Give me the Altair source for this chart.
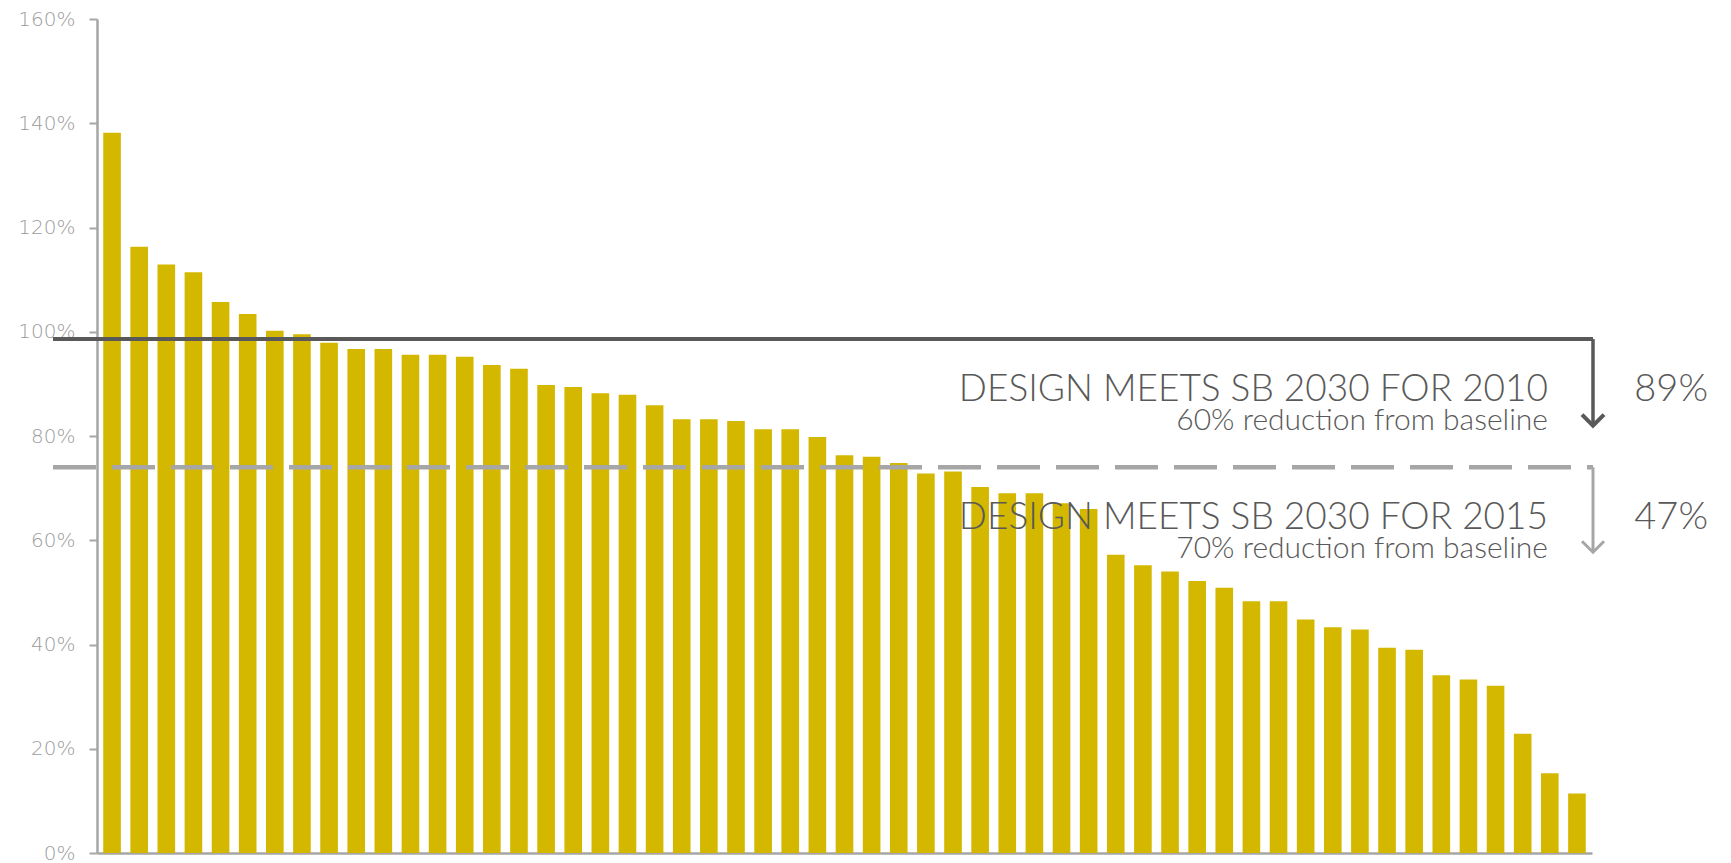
import altair as alt
import pandas as pd

# Bar values (% of baseline), sorted descending as in the reference
values = [138.2, 116.3, 112.9, 111.4, 105.7, 103.4, 100.2, 99.5, 97.9, 96.7,
          96.7, 95.6, 95.6, 95.2, 93.6, 92.9, 89.8, 89.4, 88.2, 87.9,
          85.9, 83.2, 83.2, 82.9, 81.3, 81.3, 79.8, 76.3, 76.0, 74.8,
          72.8, 73.2, 70.2, 69.0, 69.0, 67.1, 66.0, 57.2, 55.2, 54.0,
          52.2, 50.9, 48.3, 48.3, 44.8, 43.3, 42.9, 39.4, 39.0, 34.1,
          33.3, 32.1, 22.9, 15.3, 11.4]
buildings = list(range(1, len(values) + 1))

# Threshold lines and arrow end points (% on the y scale)
levels = [98.6, 74.0]
arrow_ends = [82.0, 57.7]
titles = ["DESIGN MEETS SB 2030  FOR 2010", "DESIGN MEETS SB 2030 FOR 2015"]
subtitles = ["60% reduction from baseline", "70% reduction from baseline"]
shares = ["89%", "47%"]
y_ticks = [0, 20, 40, 60, 80, 100, 120, 140, 160]

FONT = "Lato"
AXFONT = "DejaVu Sans"
BAR = "#D4B800"
DARK = "#595959"
LIGHT = "#A6A6A6"
TXT = "#595959"

W, H = 1495, 834

bars_df = pd.DataFrame({"b": buildings, "v": values})
thr = pd.DataFrame({"level": levels, "end": arrow_ends, "title": titles,
                    "sub": subtitles, "share": shares, "kind": ["2010", "2015"]})

yscale = alt.Scale(domain=[0, 160], nice=False, zero=True)

bars = alt.Chart(bars_df).mark_bar(color=BAR).encode(
    x=alt.X("b:O", sort=None,
            scale=alt.Scale(paddingInner=0.35, paddingOuter=0.23),
            axis=alt.Axis(labels=False, ticks=False, title=None, domainColor=LIGHT,
                          domainWidth=2.5, grid=False)),
    y=alt.Y("v:Q", scale=yscale,
            axis=alt.Axis(values=y_ticks, labelExpr="datum.value + '%'", title=None,
                          grid=False, domainColor=LIGHT, domainWidth=2.5,
                          tickColor=LIGHT, tickWidth=2, tickSize=8, labelPadding=14,
                          labelColor="#9C9C9C", labelFont=AXFONT, labelFontSize=20,
                          labelFontWeight=200)),
)

solid = thr[thr.kind == "2010"]
dashed = thr[thr.kind == "2015"]

h_solid = alt.Chart(solid).mark_rule(color=DARK, strokeWidth=4).encode(
    y=alt.Y("level:Q", scale=yscale), x=alt.value(-44), x2=alt.value(W + 1))
h_dash = alt.Chart(dashed).mark_rule(color=LIGHT, strokeWidth=4.5, strokeDash=[43, 16]).encode(
    y=alt.Y("level:Q", scale=yscale), x=alt.value(-44), x2=alt.value(W + 1))

v_solid = alt.Chart(solid).mark_rule(color=DARK, strokeWidth=3.5).encode(
    y=alt.Y("level:Q", scale=yscale), y2="end:Q", x=alt.value(W + 1))
v_dash = alt.Chart(dashed).mark_rule(color=LIGHT, strokeWidth=3).encode(
    y=alt.Y("level:Q", scale=yscale), y2="end:Q", x=alt.value(W + 1))

chev = "M-1,-1L0,0L1,-1"
a_solid = alt.Chart(solid).mark_point(shape=chev, filled=False, size=484, strokeWidth=4,
                                      color=DARK, opacity=1).encode(
    y=alt.Y("end:Q", scale=yscale), x=alt.value(W + 1))
a_dash = alt.Chart(dashed).mark_point(shape=chev, filled=False, size=484, strokeWidth=3,
                                      color=LIGHT, opacity=1).encode(
    y=alt.Y("end:Q", scale=yscale), x=alt.value(W + 1))

t_title = alt.Chart(thr).mark_text(align="right", baseline="alphabetic", dy=62,
                                   font=FONT, fontSize=37, fontWeight=300, color=TXT).encode(
    y=alt.Y("level:Q", scale=yscale), x=alt.value(1451), text="title:N")
t_sub = alt.Chart(thr).mark_text(align="right", baseline="alphabetic", dy=91,
                                 font=FONT, fontSize=30, fontWeight=300, color=TXT).encode(
    y=alt.Y("level:Q", scale=yscale), x=alt.value(1451), text="sub:N")
t_share = alt.Chart(thr).mark_text(align="right", baseline="alphabetic", dy=62,
                                   font=FONT, fontSize=38, fontWeight=300, color=TXT).encode(
    y=alt.Y("level:Q", scale=yscale), x=alt.value(1611), text="share:N")

chart = alt.layer(bars, h_solid, h_dash, v_solid, v_dash, a_solid, a_dash,
                  t_title, t_sub, t_share).properties(
    width=W, height=H,
    autosize=alt.AutoSizeParams(type="none"),
    padding={"left": 97, "top": 19, "right": 139, "bottom": 10},
    background="white",
).configure_view(strokeWidth=0, stroke="transparent")

chart.save("out.html", embed_options={"renderer": "svg", "actions": False})
